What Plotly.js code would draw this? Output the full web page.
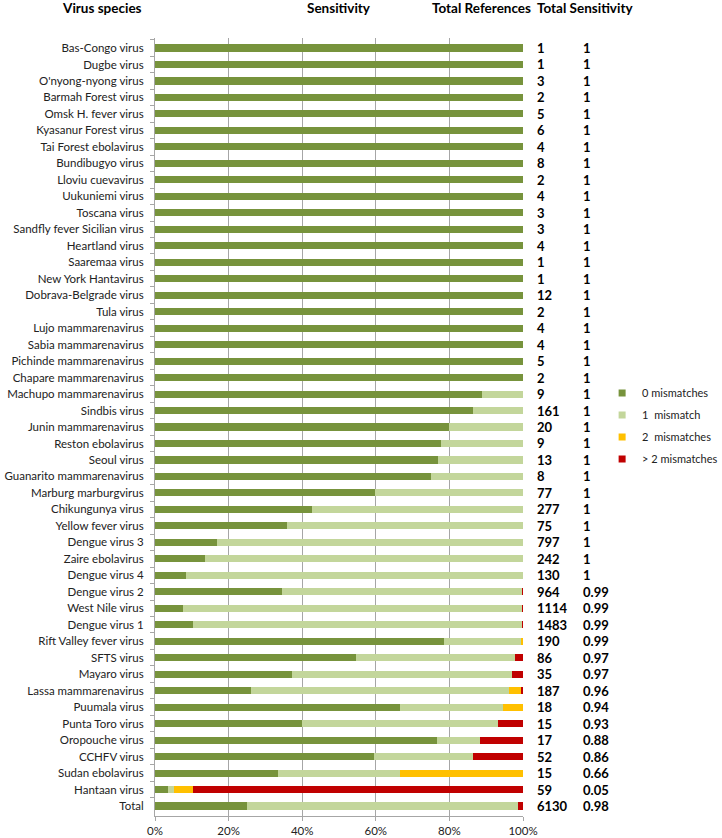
<!DOCTYPE html>
<html><head><meta charset="utf-8">
<script src="https://cdn.plot.ly/plotly-3.0.1.min.js"></script>
<style>html,body{margin:0;padding:0;background:#fff}</style>
</head><body><div id="chart" style="width:722px;height:838px"></div>
<script>
const categories = ["Bas-Congo virus","Dugbe virus","O'nyong-nyong virus","Barmah Forest virus","Omsk H. fever virus","Kyasanur Forest virus","Tai Forest ebolavirus","Bundibugyo virus","Lloviu cuevavirus","Uukuniemi virus","Toscana virus","Sandfly fever Sicilian virus","Heartland virus","Saaremaa virus","New York Hantavirus","Dobrava-Belgrade virus","Tula virus","Lujo mammarenavirus","Sabia mammarenavirus","Pichinde mammarenavirus","Chapare mammarenavirus","Machupo mammarenavirus","Sindbis virus","Junin mammarenavirus","Reston ebolavirus","Seoul virus","Guanarito mammarenavirus","Marburg marburgvirus","Chikungunya virus","Yellow fever virus","Dengue virus 3","Zaire ebolavirus","Dengue virus 4","Dengue virus 2","West Nile virus","Dengue virus 1","Rift Valley fever virus","SFTS virus","Mayaro virus","Lassa mammarenavirus","Puumala virus","Punta Toro virus","Oropouche virus","CCHFV virus","Sudan ebolavirus","Hantaan virus","Total"];
const mm0 = [100,100,100,100,100,100,100,100,100,100,100,100,100,100,100,100,100,100,100,100,100,88.9,86.3,80,77.8,76.9,75,59.7,42.6,36,16.9,13.6,8.5,34.6,7.5,10.4,78.4,54.7,37.1,26.2,66.7,40,76.5,59.6,33.3,3.4,24.9];
const mm1 = [0,0,0,0,0,0,0,0,0,0,0,0,0,0,0,0,0,0,0,0,0,11.1,13.7,20,22.2,23.1,25,40.3,57.4,64,83.1,86.4,91.5,65.1,92.1,89.2,21.1,43,60,70.1,27.8,53.3,11.8,26.9,33.4,1.7,73.7];
const mm2 = [0,0,0,0,0,0,0,0,0,0,0,0,0,0,0,0,0,0,0,0,0,0,0,0,0,0,0,0,0,0,0,0,0,0,0,0,0.5,0,0,3.2,5.5,0,0,0,33.3,5.1,0];
const mmMore = [0,0,0,0,0,0,0,0,0,0,0,0,0,0,0,0,0,0,0,0,0,0,0,0,0,0,0,0,0,0,0,0,0,0.3,0.4,0.4,0,2.3,2.9,0.5,0,6.7,11.7,13.5,0,89.8,1.4];
const totalRefs = [1,1,3,2,5,6,4,8,2,4,3,3,4,1,1,12,2,4,4,5,2,9,161,20,9,13,8,77,277,75,797,242,130,964,1114,1483,190,86,35,187,18,15,17,52,15,59,6130];
const totalSens = ["1","1","1","1","1","1","1","1","1","1","1","1","1","1","1","1","1","1","1","1","1","1","1","1","1","1","1","1","1","1","1","1","1","0.99","0.99","0.99","0.99","0.97","0.97","0.96","0.94","0.93","0.88","0.86","0.66","0.05","0.98"];
const seriesNames = ["0 mismatches","1  mismatch","2  mismatches","> 2 mismatches"];
const seriesColors = ["#77933C","#C3D69B","#FFC000","#C00000"];
const xTicks = [0,20,40,60,80,100];

const FONT = "Lato, 'Open Sans', sans-serif";
const series = [mm0, mm1, mm2, mmMore];
const traces = series.map((vals, i) => ({
  type: 'bar', orientation: 'h', name: seriesNames[i],
  y: categories, x: vals, showlegend: false, legendgroup: 'g' + i,
  marker: {color: seriesColors[i], line: {width: 0}},
  hoverinfo: 'skip'
}));
// legend-only entries with small square keys
seriesNames.forEach((n, i) => traces.push({
  type: 'scatter', mode: 'markers', name: n, x: [null], y: [null],
  legendgroup: 'g' + i, showlegend: true,
  marker: {symbol: 'square', size: 7, color: seriesColors[i]}, hoverinfo: 'skip'
}));

const annotations = [];
const numFont = {family:FONT, size:13, color:'#000', weight:'bold'};
categories.forEach((c, i) => {
  annotations.push({xref:'paper', yref:'y', x:1.033, y:c, text:String(totalRefs[i]), showarrow:false, xanchor:'left', yanchor:'middle', font:numFont});
  annotations.push({xref:'paper', yref:'y', x:1.157, y:c, text:totalSens[i], showarrow:false, xanchor:'left', yanchor:'middle', font:numFont});
});
const headers = [["Virus species",-0.144],["Sensitivity",0.5],["Total References",0.887],["Total Sensitivity",1.168]];
headers.forEach(h => annotations.push({xref:'paper', yref:'paper', x:h[1], y:1.039, text:h[0], showarrow:false, xanchor:'center', yanchor:'middle', font:{family:FONT, size:13.5, color:'#000', weight:'bold'}}));

const layout = {
  width:722, height:838,
  margin:{l:155, r:199, t:38, b:22, pad:0, autoexpand:false},
  barmode:'stack', bargap:0.57,
  paper_bgcolor:'#fff', plot_bgcolor:'#fff',
  font:{family:FONT, size:11.5, color:'#222'},
  showlegend:true,
  legend:{x:1.215, y:0.5625, xanchor:'left', yanchor:'top', font:{family:FONT, size:11, color:'#222'}, traceorder:'grouped', tracegroupgap:3, itemwidth:30, bgcolor:'rgba(0,0,0,0)'},
  xaxis:{range:[0,100], tickvals:xTicks, ticktext:xTicks.map(v=>v+'%'), showgrid:true, gridcolor:'#A6A6A6', gridwidth:1, zeroline:false, showline:true, linecolor:'#A6A6A6', ticks:'outside', ticklen:4, tickcolor:'#A6A6A6', tickfont:{family:FONT, size:11.5, color:'#222'}, fixedrange:true},
  yaxis:{type:'category', autorange:'reversed', showline:true, linecolor:'#A6A6A6', ticks:'outside', tickson:'boundaries', ticklen:4, tickcolor:'#A6A6A6', showgrid:false, tickfont:{family:FONT, size:11.5, color:'#222'}, ticklabelstandoff:8, fixedrange:true},
  annotations: annotations
};
Plotly.newPlot('chart', traces, layout, {staticPlot:true, displayModeBar:false});
</script></body></html>
